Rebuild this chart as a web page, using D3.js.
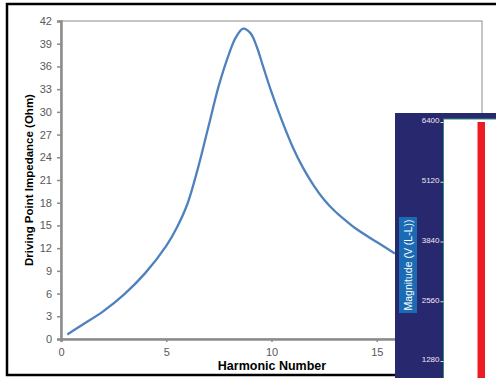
<!DOCTYPE html>
<meta charset="utf-8">
<style>
body{ margin:0; background:#fff; font-family:"Liberation Sans", Arial, sans-serif; }
.tick text{ fill:#595959; font-size:11px; font-family:"Liberation Sans", Arial, sans-serif; }
.line{ fill:none; stroke:#4f81bd; stroke-width:2.3px; }
</style>
<body>
<div id="chart"></div>
<script src="https://d3js.org/d3.v7.min.js"></script>
<script>

// harmonic number vs driving point impedance
var harmonic = [0.3,1,2,3,4,5,5.5,6,6.5,7,7.5,8,8.3,8.65,9,9.3,9.6,10,10.5,11,11.5,12,12.5,13,13.5,14,15,15.86];
var impedance = [0.6,1.85,3.65,5.9,8.7,12.3,14.7,17.8,22.5,28.0,33.5,37.8,39.8,41.0,40.4,38.6,36.0,32.6,28.8,25.4,22.6,20.3,18.4,16.9,15.7,14.6,12.8,11.3];
var yTicks = [0,3,6,9,12,15,18,21,24,27,30,33,36,39,42];
var xTicks = [0,5,10,15];
// inset scale labels
var insetTicks = [6400,5120,3840,2560,1280];

var W = 496, H = 378;
var margin = {top: 21, right: 14, bottom: 39, left: 61},
    width = W - margin.left - margin.right,
    height = H - margin.top - margin.bottom;

var svg = d3.select("#chart").append("svg")
    .attr("width", W).attr("height", H);

// outer frame
svg.append("rect")
    .attr("x", 7).attr("y", 4)
    .attr("width", 500).attr("height", 371)
    .attr("fill", "none").attr("stroke", "#000").attr("stroke-width", 2.5);

var g = svg.append("g")
    .attr("transform", "translate(" + margin.left + "," + margin.top + ")");

var x = d3.scaleLinear().domain([0, 20]).range([0, width]);
var y = d3.scaleLinear().domain([0, 42]).range([height, 0]);

// plot box
g.append("rect")
    .attr("width", width).attr("height", height)
    .attr("fill", "none").attr("stroke", "#8c8c8c").attr("stroke-width", 1);

var xAxis = g.append("g")
    .attr("transform", "translate(0," + height + ")")
    .call(d3.axisBottom(x).tickValues(xTicks).tickSize(3).tickPadding(6));
var yAxis = g.append("g")
    .call(d3.axisLeft(y).tickValues(yTicks).tickSize(4).tickPadding(5));

[xAxis, yAxis].forEach(function(a){
  a.select(".domain").attr("stroke", "#8c8c8c").attr("stroke-width", 2.5);
  a.selectAll(".tick line").attr("stroke", "#8c8c8c").attr("stroke-width", 1.5);
});

var line = d3.line()
    .x(function(d, i){ return x(harmonic[i]); })
    .y(function(d){ return y(d); })
    .curve(d3.curveCatmullRom.alpha(0.5));

g.append("path")
    .datum(impedance)
    .attr("class", "line")
    .attr("d", line);

svg.append("text")
    .attr("transform", "translate(33," + (margin.top + height / 2) + ") rotate(-90)")
    .attr("text-anchor", "middle")
    .style("font-weight", "bold").style("font-size", "11.5px").style("fill", "#000")
    .text("Driving Point Impedance (Ohm)");

svg.append("text")
    .attr("x", 272).attr("y", 370)
    .attr("text-anchor", "middle")
    .style("font-weight", "bold").style("font-size", "12.5px").style("fill", "#000")
    .text("Harmonic Number");

// overlapping inset panel
var inset = svg.append("g");
inset.append("rect")
    .attr("x", 395).attr("y", 113).attr("width", 101).attr("height", 265)
    .attr("fill", "#28286e");
inset.append("rect")
    .attr("x", 443.5).attr("y", 119).attr("width", 60).attr("height", 270)
    .attr("fill", "#fff").attr("stroke", "#2e8b7a").attr("stroke-width", 1);

var yi = d3.scaleLinear().domain([1280, 6400]).range([361, 122]);
var ia = inset.append("g")
    .attr("transform", "translate(443.5,0)")
    .call(d3.axisLeft(yi).tickValues(insetTicks).tickFormat(d3.format("d")).tickSize(3).tickPadding(1));
ia.select(".domain").remove();
ia.selectAll(".tick line").attr("stroke", "#e0e0e0");
ia.selectAll(".tick text")
    .style("fill", "#f4e6f4").style("font-size", "8px")
    .attr("dy", "0.1em");

inset.append("rect")
    .attr("x", 477.5).attr("y", yi(6400)).attr("width", 7.5).attr("height", 378 - yi(6400))
    .attr("fill", "#ed1c24");

inset.append("rect")
    .attr("x", 399).attr("y", 217).attr("width", 18).attr("height", 96)
    .attr("fill", "#1a6ab4");
inset.append("text")
    .attr("transform", "translate(412,265) rotate(-90)")
    .attr("text-anchor", "middle")
    .style("font-size", "10.5px").style("fill", "#fff")
    .text("Magnitude (V (L-L))");

</script>
</body>
